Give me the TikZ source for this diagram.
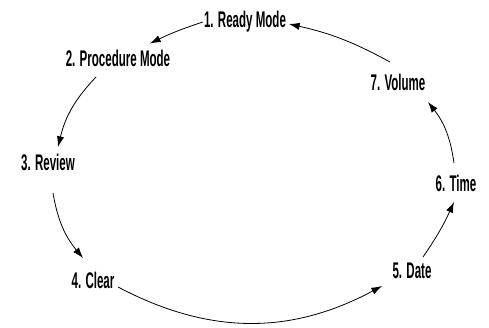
\documentclass[tikz,border=0pt]{standalone}
\usepackage{fontspec}
\setmainfont{Liberation Sans}[FakeStretch=0.51]
\usepackage{tikz}
\usetikzlibrary{arrows.meta,positioning,calc}

\begin{document}
\begin{tikzpicture}[
    x=0.0264cm, y=-0.0264cm,
    mode/.style={font=\fontsize{17}{19}\selectfont\bfseries, inner sep=1pt},
    flow/.style={-{Latex[length=8pt,width=5.5pt]}, line width=0.6pt, bend right=15}
  ]
    \useasboundingbox (0,0) rectangle (489,328);

    \node[mode] (ready) at (245,21.5) {1. Ready Mode};
    \node[mode] (proc) at (118,58.5) {2. Procedure Mode};
    \node[mode] (review) at (48,162) {3. Review};
    \node[mode] (clear) at (93,280) {4. Clear};
    \node[mode] (date) at (412,271) {5. Date};
    \node[mode] (time) at (456,183) {6. Time};
    \node[mode] (volume) at (398,82.5) {7. Volume};

    \draw[flow, bend right=4] ([shift={(-42,0.5)}]ready.center) to ([shift={(32,-15)}]proc.center);
    \draw[flow] ([shift={(-22,18.5)}]proc.center) to ([shift={(10,-15)}]review.center);
    \draw[flow] ([shift={(5,31)}]review.center) to ([shift={(-10,-22)}]clear.center);
    \draw[flow, bend right=28] ([shift={(25,7)}]clear.center) to ([shift={(-30,15)}]date.center);
    \draw[flow, bend right=5] ([shift={(11,-14)}]date.center) to ([shift={(-2,19)}]time.center);
    \draw[flow] ([shift={(-2,-20)}]time.center) to ([shift={(30,19.5)}]volume.center);
    \draw[flow, bend right=8] ([shift={(-8,-20.5)}]volume.center) to ([shift={(44,2.5)}]ready.center);
  \end{tikzpicture}
\end{document}
